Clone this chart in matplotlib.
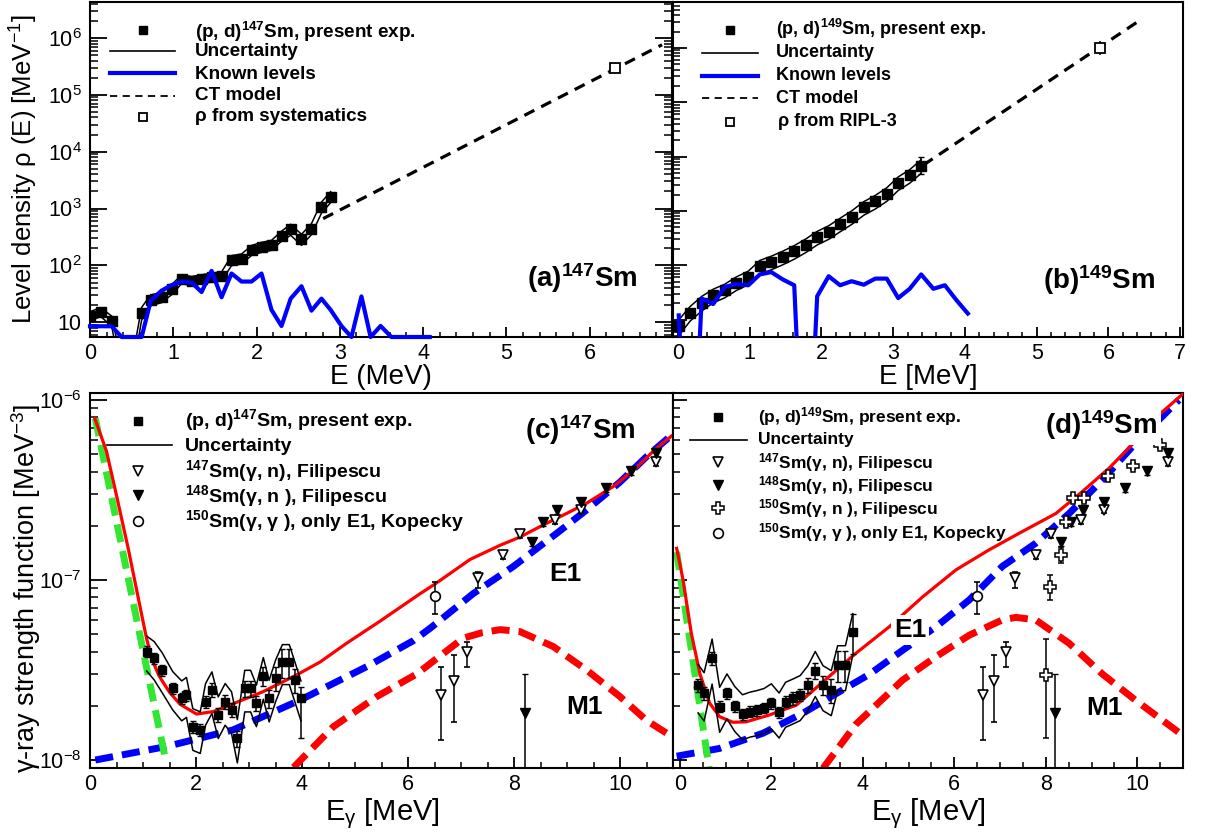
import numpy as np
import matplotlib
matplotlib.use('Agg')
import matplotlib.pyplot as plt
from matplotlib.ticker import MultipleLocator, LogLocator, NullFormatter, FuncFormatter
from matplotlib.lines import Line2D

plt.rcParams['font.family'] = ['Liberation Sans', 'DejaVu Sans']
plt.rcParams['mathtext.fontset'] = 'custom'
plt.rcParams['mathtext.rm'] = 'Liberation Sans'
plt.rcParams['mathtext.it'] = 'Liberation Sans:italic'
plt.rcParams['mathtext.bf'] = 'Liberation Sans:bold'
plt.rcParams['axes.linewidth'] = 1.5

# ---------------- data: panel (a) 147Sm level density ----------------
a_E = [0.00, 0.13, 0.26, 0.38, 0.50, 0.62, 0.73, 0.86, 0.98, 1.10, 1.22, 1.34, 1.46,
       1.58, 1.70, 1.82, 1.94, 2.06, 2.18, 2.30, 2.41, 2.54, 2.66, 2.78, 2.89]
a_rho = [13, 15.3, 10.7, 1.5, 1.5, 14.6, 25, 27.6, 38, 58, 54, 58, 62, 65, 124, 132,
         187, 212, 230, 333, 434, 289, 445, 1065, 1625]
a_unc = [0.18, 0.18, 0.20, 0.30, 0.30, 0.25, 0.22, 0.20, 0.20, 0.18, 0.18, 0.18, 0.18,
         0.18, 0.20, 0.20, 0.20, 0.20, 0.20, 0.20, 0.22, 0.22, 0.22, 0.22, 0.22]
a_known_E = a_E + [3.02, 3.14, 3.26, 3.37, 3.49, 3.62, 3.74, 3.86, 3.98, 4.08]
a_known = [8.5, 8.5, 8.5, 0, 0, 0, 24, 36, 45, 52, 50, 34, 80, 27.5, 72, 52, 52, 72,
           16.5, 8.6, 26, 43, 16, 26, 16.5, 8.6, 0, 28.5, 0, 8.6, 0, 0, 0, 0, 0]
a_ct_E = [2.80, 6.87]
a_ct_rho = [665, 7.6e5]
a_sys_E = [6.30]
a_sys_rho = [3.0e5]
a_sys_err = [0.3e5]

# ---------------- data: panel (b) 149Sm level density ----------------
b_E = [0.01, 0.17, 0.33, 0.49, 0.65, 0.81, 0.98, 1.14, 1.30, 1.46, 1.62, 1.78, 1.94,
       2.10, 2.26, 2.42, 2.59, 2.75, 2.91, 3.07, 3.23, 3.39]
b_rho = [7.5, 13.5, 20.6, 28.4, 35, 47.6, 61, 96, 115, 142, 180, 238, 329, 417, 575,
         783, 1160, 1510, 2085, 3310, 4500, 6850]
b_unc = [0.32, 0.30, 0.30, 0.28, 0.28, 0.28, 0.28, 0.28, 0.28, 0.28, 0.28, 0.28, 0.28,
         0.28, 0.28, 0.28, 0.28, 0.28, 0.28, 0.28, 0.28, 0.28]
b_known_E = [0.01, 0.17, 0.33, 0.49, 0.65, 0.81, 0.98, 1.14, 1.30, 1.46, 1.62, 1.78, 1.94,
             2.10, 2.26, 2.42, 2.59, 2.75, 2.91, 3.07, 3.23, 3.39, 3.56, 3.72, 3.88, 4.04]
b_known = [12, 0, 24.5, 19.4, 40, 45, 43, 68, 75, 55, 43, 0, 27, 63, 43, 51, 44, 57, 57,
           25, 37, 68, 37, 43, 23, 13]
b_ct_E = [3.42, 6.45]
b_ct_rho = [7000, 3.3e6]
b_ripl_E = [5.88]
b_ripl_rho = [1.0e6]
b_ripl_lo = [7.3e5]
b_ripl_hi = [1.35e6]
b_last_lo = [4700]
b_last_hi = [9800]

# ---------------- data: panel (c) 147Sm gamma strength ----------------
c_E = [1.07, 1.21, 1.36, 1.56, 1.73, 1.82, 1.94, 2.08, 2.18, 2.30, 2.42, 2.55, 2.67,
       2.78, 2.92, 3.03, 3.14, 3.27, 3.38, 3.50, 3.63, 3.76, 3.87, 3.98]
c_f = [4.0e-8, 3.67e-8, 3.16e-8, 2.5e-8, 2.2e-8, 2.3e-8, 1.53e-8, 1.47e-8, 2.11e-8,
       2.45e-8, 1.78e-8, 2.11e-8, 1.9e-8, 1.32e-8, 2.5e-8, 2.5e-8, 2.07e-8, 2.94e-8,
       2.2e-8, 2.84e-8, 3.5e-8, 3.5e-8, 2.78e-8, 2.2e-8]
c_unc = [0.22, 0.24, 0.25, 0.24, 0.25, 0.25, 0.26, 0.26, 0.26, 0.26, 0.26, 0.26, 0.26,
         0.27, 0.26, 0.26, 0.26, 0.26, 0.26, 0.26, 0.25, 0.25, 0.25, 0.25]
c_dhi = [0.07, 0.07, 0.07, 0.07, 0.07, 0.07, 0.08, 0.08, 0.08, 0.09, 0.09, 0.09, 0.09,
         0.10, 0.10, 0.10, 0.10, 0.12, 0.12, 0.15, 0.18, 0.18, 0.15, 0.15]
c_dlo = [0.07, 0.07, 0.07, 0.07, 0.07, 0.07, 0.08, 0.08, 0.08, 0.09, 0.09, 0.09, 0.09,
         0.10, 0.10, 0.10, 0.10, 0.12, 0.12, 0.15, 0.18, 0.18, 0.15, 0.40]
c_tot_E = [0.09, 0.31, 0.50, 0.72, 0.88, 1.00, 1.07, 1.13, 1.20, 1.30, 1.38, 1.50, 1.70,
           2.01, 2.33, 2.64, 3.27, 3.90, 4.34, 4.84, 5.47, 6.23, 6.51, 7.17, 7.74, 8.11,
           8.55, 8.99, 9.37, 9.87, 10.25, 10.69, 11.0]
c_tot = [7.9e-7, 5.2e-7, 2.95e-7, 1.5e-7, 8.8e-8, 5.9e-8, 4.7e-8, 4.0e-8, 3.45e-8,
         2.95e-8, 2.7e-8, 2.38e-8, 2.04e-8, 1.8e-8, 1.86e-8, 2.02e-8, 2.4e-8, 2.97e-8,
         3.5e-8, 4.45e-8, 5.9e-8, 8.4e-8, 9.5e-8, 1.3e-7, 1.56e-7, 1.73e-7, 2.02e-7,
         2.34e-7, 2.67e-7, 3.3e-7, 4.06e-7, 5.4e-7, 6.4e-7]
c_up_E = [0.10, 1.415]
c_up = [7.9e-7, 1.04e-8]
c_e1_E = [0.10, 1.45, 2.70, 3.96, 5.22, 6.10, 6.42, 7.23, 7.99, 8.81, 9.37, 10.0, 10.5, 10.98]
c_e1 = [1.0e-8, 1.19e-8, 1.47e-8, 2.15e-8, 3.3e-8, 4.6e-8, 5.4e-8, 8.4e-8, 1.19e-7,
        1.82e-7, 2.45e-7, 3.5e-7, 4.84e-7, 6.4e-7]
c_m1_E = [3.84, 4.59, 5.41, 6.16, 7.04, 7.40, 7.74, 8.11, 8.74, 9.37, 10.0, 10.5, 10.98]
c_m1 = [9.1e-9, 1.53e-8, 2.25e-8, 3.0e-8, 4.75e-8, 5.1e-8, 5.3e-8, 5.17e-8, 4.27e-8,
        3.16e-8, 2.25e-8, 1.66e-8, 1.35e-8]

# ---------------- data: panel (d) 149Sm gamma strength ----------------
d_E = [0.40, 0.53, 0.705, 0.87, 1.03, 1.20, 1.37, 1.53, 1.69, 1.84, 2.00, 2.17, 2.31,
       2.47, 2.63, 2.80, 2.96, 3.13, 3.31, 3.45, 3.62, 3.78]
d_f = [2.61e-8, 2.35e-8, 3.67e-8, 1.98e-8, 2.35e-8, 2.0e-8, 1.8e-8, 1.86e-8, 1.9e-8,
       1.95e-8, 2.07e-8, 1.84e-8, 2.11e-8, 2.2e-8, 2.3e-8, 2.61e-8, 3.13e-8, 2.61e-8,
       2.45e-8, 3.37e-8, 3.37e-8, 5.16e-8]
d_unc = [0.30, 0.30, 0.28, 0.28, 0.28, 0.28, 0.28, 0.28, 0.28, 0.28, 0.28, 0.28, 0.28,
         0.28, 0.28, 0.28, 0.28, 0.28, 0.28, 0.28, 0.28, 0.26]
d_derr = [0.08, 0.08, 0.08, 0.07, 0.07, 0.07, 0.07, 0.07, 0.07, 0.07, 0.07, 0.07, 0.07,
          0.08, 0.08, 0.10, 0.10, 0.12, 0.15, 0.20, 0.20, 0.25]
d_tot_E = [-0.07, 0.07, 0.25, 0.44, 0.65, 0.87, 1.16, 1.45, 1.96, 2.55, 3.13, 3.85, 4.58,
           5.31, 6.04, 6.76, 7.49, 8.22, 8.80, 9.38, 9.96, 10.47, 10.98]
d_tot = [1.5e-7, 1.0e-7, 5.06e-8, 3.0e-8, 2.07e-8, 1.74e-8, 1.62e-8, 1.63e-8, 1.78e-8,
         2.02e-8, 2.72e-8, 3.92e-8, 5.5e-8, 8.07e-8, 1.14e-7, 1.47e-7, 1.86e-7, 2.34e-7,
         3.1e-7, 4.17e-7, 5.9e-7, 8.25e-7, 1.07e-6]
d_up_E = [-0.07, 0.64]
d_up = [1.43e-7, 9.0e-9]
d_e1_E = [-0.07, 0.87, 1.82, 2.69, 3.42, 4.15, 4.87, 5.60, 6.33, 7.05, 7.78, 8.51, 9.24,
          9.96, 10.91]
d_e1 = [1.05e-8, 1.16e-8, 1.41e-8, 1.82e-8, 2.34e-8, 3.0e-8, 4.07e-8, 5.5e-8, 7.76e-8,
        1.19e-7, 1.6e-7, 2.34e-7, 3.6e-7, 5.75e-7, 1.0e-6]
d_m1_E = [3.13, 3.85, 4.87, 5.60, 6.33, 7.05, 7.35, 7.78, 8.51, 9.24, 9.96, 10.98]
d_m1 = [9.0e-9, 1.58e-8, 2.78e-8, 3.75e-8, 4.94e-8, 6.0e-8, 6.2e-8, 6.0e-8, 4.45e-8,
        3.0e-8, 2.15e-8, 1.38e-8]

# ---------------- photo-neutron / NRF data (shared) ----------------
f147_E = [6.62, 6.87, 7.12, 7.33, 7.79, 8.11, 8.77, 9.27, 10.68]
f147 = [2.3e-8, 2.75e-8, 4.0e-8, 1.02e-7, 1.37e-7, 1.79e-7, 2.15e-7, 2.45e-7, 4.5e-7]
f147_lo = [1.29e-8, 1.63e-8, 3.3e-8, 9.0e-8, 1.3e-7, 1.7e-7, 2.05e-7, 2.35e-7, 4.3e-7]
f147_hi = [3.3e-8, 3.83e-8, 4.54e-8, 1.11e-7, 1.45e-7, 1.88e-7, 2.25e-7, 2.55e-7, 4.7e-7]
f148_E = [8.21, 8.34, 8.55, 8.81, 9.27, 9.74, 10.21, 10.68]
f148 = [1.82e-8, 1.62e-7, 2.1e-7, 2.44e-7, 2.7e-7, 3.25e-7, 4.03e-7, 5.1e-7]
f148_lo = [1e-9, 1.55e-7, 2.0e-7, 2.33e-7, 2.58e-7, 3.1e-7, 3.85e-7, 4.9e-7]
f148_hi = [3.0e-8, 1.7e-7, 2.2e-7, 2.55e-7, 2.82e-7, 3.4e-7, 4.2e-7, 5.3e-7]
f150_E = [8.00, 8.09, 8.33, 8.45, 8.60, 8.84, 9.37, 9.91, 10.50]
f150 = [2.97e-8, 9.2e-8, 1.38e-7, 2.1e-7, 2.84e-7, 2.84e-7, 3.8e-7, 4.3e-7, 5.6e-7]
f150_lo = [1.32e-8, 7.7e-8, 1.25e-7, 2.0e-7, 2.72e-7, 2.72e-7, 3.65e-7, 4.15e-7, 5.4e-7]
f150_hi = [4.7e-8, 1.06e-7, 1.52e-7, 2.2e-7, 2.96e-7, 2.96e-7, 3.95e-7, 4.45e-7, 5.8e-7]
kop_E = [6.50]
kop = [8.1e-8]
kop_lo = [6.5e-8]
kop_hi = [9.8e-8]

# ======================= figure =======================
W, H = 1209, 835
fig = plt.figure(figsize=(W / 100, H / 100), dpi=100)


def box(l, t, r, b):
    return [l / W, 1 - b / H, (r - l) / W, (b - t) / H]


axA = fig.add_axes(box(90, 2, 672, 337))
axB = fig.add_axes(box(673, 2, 1183, 337))
axC = fig.add_axes(box(90, 393, 673, 768))
axD = fig.add_axes(box(673, 393, 1183, 768))

RED, BLUE, GREEN = '#ff0000', '#0000ff', '#33e633'
TICKFS = 15.5


def logfmt(v, pos):
    e = int(round(np.log10(v)))
    if e == 1:
        return '10'
    return r'$\mathregular{10^{%d}}$' % e


def style(ax, xmaj, xmin, xlen, ylen, ylabels=True, right=False):
    ax.set_yscale('log')
    ax.xaxis.set_major_locator(MultipleLocator(xmaj))
    ax.xaxis.set_minor_locator(MultipleLocator(xmin))
    ax.yaxis.set_major_locator(LogLocator(base=10, numticks=20))
    ax.yaxis.set_minor_locator(LogLocator(base=10, subs=np.arange(2, 10), numticks=20))
    ax.yaxis.set_minor_formatter(NullFormatter())
    if ylabels:
        ax.yaxis.set_major_formatter(FuncFormatter(logfmt))
    else:
        ax.tick_params(axis='y', labelleft=False)
    ax.tick_params(axis='x', which='major', direction='in', length=xlen, width=1.3,
                   labelsize=TICKFS, pad=4, top=False)
    ax.tick_params(axis='x', which='minor', direction='in', length=xlen / 2, width=1.1, top=False)
    ax.tick_params(axis='y', which='major', direction='in', length=ylen, width=1.3,
                   labelsize=TICKFS, pad=6, right=right)
    ax.tick_params(axis='y', which='minor', direction='in', length=ylen / 2, width=1.1, right=right)


# ---------------- panel a ----------------
ylimA = (5.5, 4.3e6)
aE = np.array(a_E)
ar = np.array(a_rho)
au = np.array(a_unc)
axA.plot(aE, ar * (1 + au), '-', color='k', lw=1.1, zorder=3)
axA.plot(aE, ar * (1 - au), '-', color='k', lw=1.1, zorder=3)
axA.plot(aE, ar, 's', color='k', ms=6.5, zorder=4)
axA.plot(a_known_E, np.maximum(np.array(a_known, float), ylimA[0]), '-', color=BLUE,
         lw=3, zorder=5, clip_on=False)
axA.plot(a_ct_E, a_ct_rho, color='k', lw=2.3, ls=(0, (3.5, 2.4)), zorder=3)
axA.errorbar(a_sys_E, a_sys_rho, yerr=[a_sys_err, a_sys_err], fmt='s', ms=6.5, mfc='white',
             mec='k', mew=1.3, ecolor='k', elinewidth=1.1, zorder=4)
axA.set_xlim(0, 6.99)
axA.set_ylim(*ylimA)
style(axA, 1, 0.2, 7.2, 12, ylabels=True, right=True)

# ---------------- panel b ----------------
ylimB = (4.8, 7e6)
bE = np.array(b_E)
br = np.array(b_rho)
bu = np.array(b_unc)
axB.plot(bE, br * (1 + bu), '-', color='k', lw=1.1, zorder=3)
axB.plot(bE, br * (1 - bu), '-', color='k', lw=1.1, zorder=3)
axB.plot(bE, br, 's', color='k', ms=6.5, zorder=4)
axB.errorbar([b_E[-1]], [b_rho[-1]], yerr=[[b_rho[-1] - b_last_lo[0]], [b_last_hi[0] - b_rho[-1]]],
             fmt='none', ecolor='k', elinewidth=1.1, capsize=2, zorder=4)
bk = np.array(b_known, float)
axB.plot(b_known_E, np.where(bk > 0, bk, 1e-3), '-', color=BLUE, lw=3, zorder=5)
axB.plot(b_ct_E, b_ct_rho, color='k', lw=2.3, ls=(0, (3.5, 2.4)), zorder=3)
axB.errorbar(b_ripl_E, b_ripl_rho,
             yerr=[[b_ripl_rho[0] - b_ripl_lo[0]], [b_ripl_hi[0] - b_ripl_rho[0]]],
             fmt='s', ms=6.5, mfc='white', mec='k', mew=1.3, ecolor='k', elinewidth=1.1, zorder=4)
axB.set_xlim(-0.07, 7.04)
axB.set_ylim(*ylimB)
style(axB, 1, 0.2, 7.2, 10, ylabels=False)


# ---------------- panels c, d ----------------
def gsf_panel(ax, E, f, unc, dlo, dhi, tot_E, tot, up_E, up, e1_E, e1, m1_E, m1, with150):
    E = np.array(E)
    f = np.array(f)
    u = np.array(unc)
    thick = dict(lw=5, ls=(0, (2.6, 1.3)), solid_capstyle='butt')
    ax.plot(e1_E, e1, color=BLUE, zorder=2, **thick)
    ax.plot(m1_E, m1, color=RED, zorder=2, **thick)
    ax.plot(up_E, up, color=GREEN, zorder=2, **thick)
    ax.plot(tot_E, tot, '-', color=RED, lw=2.3, zorder=3)
    ax.plot(E, f * (1 + u), '-', color='k', lw=1.1, zorder=4)
    ax.plot(E, f * (1 - u), '-', color='k', lw=1.1, zorder=4)
    ax.errorbar(E, f, yerr=[f * np.array(dlo), f * np.array(dhi)], fmt='s', ms=5.5,
                color='k', ecolor='k', elinewidth=1.1, capsize=2, zorder=5)
    ax.errorbar(f147_E, f147, yerr=[np.array(f147) - np.array(f147_lo),
                                    np.array(f147_hi) - np.array(f147)],
                fmt='v', ms=7, mfc='white', mec='k', mew=1.2, ecolor='k',
                elinewidth=1.1, capsize=2, zorder=6)
    ax.errorbar(f148_E, f148, yerr=[np.array(f148) - np.array(f148_lo),
                                    np.array(f148_hi) - np.array(f148)],
                fmt='v', ms=7, color='k', ecolor='k', elinewidth=1.1, capsize=2, zorder=6)
    if with150:
        ax.errorbar(f150_E, f150, yerr=[np.array(f150) - np.array(f150_lo),
                                        np.array(f150_hi) - np.array(f150)],
                    fmt='P', ms=8, mfc='white', mec='k', mew=1.1, ecolor='k',
                    elinewidth=1.1, capsize=2, zorder=6)
    ax.errorbar(kop_E, kop, yerr=[np.array(kop) - np.array(kop_lo), np.array(kop_hi) - np.array(kop)],
                fmt='o', ms=7, mfc='white', mec='k', mew=1.2, ecolor='k',
                elinewidth=1.1, capsize=2, zorder=6)
    ax.set_ylim(9.03e-9, 1.093e-6)


gsf_panel(axC, c_E, c_f, c_unc, c_dlo, c_dhi, c_tot_E, c_tot, c_up_E, c_up, c_e1_E, c_e1,
          c_m1_E, c_m1, False)
axC.set_xlim(0, 11)
style(axC, 2, 0.5, 8, 12, ylabels=True)

gsf_panel(axD, d_E, d_f, d_unc, d_derr, d_derr, d_tot_E, d_tot, d_up_E, d_up, d_e1_E, d_e1,
          d_m1_E, d_m1, True)
axD.set_xlim(-0.15, 11)
style(axD, 2, 0.5, 8, 10, ylabels=False)

# ---------------- panel labels ----------------
wbox = dict(facecolor='white', edgecolor='none', boxstyle='square,pad=0.12')
fig.text(527 / W, 1 - 278 / H, r'(a)$^{\mathbf{147}}$Sm', fontsize=20, fontweight='bold',
         ha='left', va='center')
fig.text(1043 / W, 1 - 280 / H, r'(b)$^{\mathbf{149}}$Sm', fontsize=20, fontweight='bold',
         ha='left', va='center')
fig.text(525 / W, 1 - 430 / H, r'(c)$^{\mathbf{147}}$Sm', fontsize=20, fontweight='bold',
         ha='left', va='center', zorder=20, bbox=wbox)
fig.text(1045 / W, 1 - 425 / H, r'(d)$^{\mathbf{149}}$Sm', fontsize=20, fontweight='bold',
         ha='left', va='center', zorder=20, bbox=wbox)
fig.text(565 / W, 1 - 574 / H, 'E1', fontsize=19, fontweight='bold', ha='center',
         va='center', zorder=20, bbox=wbox)
fig.text(585 / W, 1 - 707 / H, 'M1', fontsize=19, fontweight='bold', ha='center', va='center')
fig.text(910 / W, 1 - 630 / H, 'E1', fontsize=19, fontweight='bold', ha='center',
         va='center', zorder=20, bbox=wbox)
fig.text(1105 / W, 1 - 708 / H, 'M1', fontsize=19, fontweight='bold', ha='center', va='center')

# ---------------- axis titles ----------------
fig.text(24 / W, 1 - 169 / H, r'Level density ρ (E) [MeV$^{-1}$]', rotation=90,
         fontsize=18.5, ha='center', va='center')
fig.text(26 / W, 1 - 588 / H, r'γ-ray strength function [MeV$^{-3}$]', rotation=90,
         fontsize=19.5, ha='center', va='center')
fig.text(381 / W, 1 - 377 / H, 'E (MeV)', fontsize=20, ha='center', va='center')
fig.text(928 / W, 1 - 377 / H, 'E [MeV]', fontsize=20, ha='center', va='center')
fig.text(382 / W, 1 - 814 / H, r'E$_{\mathrm{γ}}$ [MeV]', fontsize=21, ha='center', va='center')
fig.text(928 / W, 1 - 814 / H, r'E$_{\mathrm{γ}}$ [MeV]', fontsize=21, ha='center', va='center')


# ---------------- legends (drawn in figure pixel coordinates) ----------------
def fx(x):
    return x / W


def fy(y):
    return 1 - y / H


def leg_line(x0, x1, y, **kw):
    fig.add_artist(Line2D([fx(x0), fx(x1)], [fy(y), fy(y)], transform=fig.transFigure, **kw))


def leg_mark(x, y, **kw):
    fig.add_artist(Line2D([fx(x)], [fy(y)], transform=fig.transFigure, ls='none', **kw))


def leg_text(x, y, s, fs):
    cap = 0.716 * fs * 100 / 72
    fig.text(fx(x), fy(y + cap / 2), s, fontsize=fs, fontweight='bold', ha='left', va='baseline')


sq = dict(marker='s', ms=6, color='k')
osq = dict(marker='s', ms=6, mfc='white', mec='k', mew=1.3)
otri = dict(marker='v', ms=7, mfc='white', mec='k', mew=1.2)
ftri = dict(marker='v', ms=7, color='k')
ocir = dict(marker='o', ms=7, mfc='white', mec='k', mew=1.2)
ocross = dict(marker='P', ms=8, mfc='white', mec='k', mew=1.1)

# panel a legend
fsA = 13.6
leg_mark(143, 30, **sq)
leg_line(110, 175, 51, color='k', lw=1.2)
leg_line(110, 175, 73, color=BLUE, lw=3)
leg_line(110, 175, 96, color='k', lw=1.3, ls=(0, (4, 3)))
leg_mark(143, 117, **osq)
leg_text(195, 31, r'(p, d)$^{\mathbf{147}}$Sm, present exp.', fsA)
leg_text(195, 49, 'Uncertainty', fsA)
leg_text(195, 72, 'Known levels', fsA)
leg_text(195, 93, 'CT model', fsA)
leg_text(195, 114, 'ρ from systematics', fsA)

# panel b legend
fsB = 13
leg_mark(730, 30, **sq)
leg_line(702, 758, 53, color='k', lw=1.2)
leg_line(702, 758, 76, color=BLUE, lw=3)
leg_line(702, 758, 98, color='k', lw=1.3, ls=(0, (4, 3)))
leg_mark(730, 122, **osq)
leg_text(776, 29, r'(p, d)$^{\mathbf{149}}$Sm, present exp.', fsB)
leg_text(776, 51, 'Uncertainty', fsB)
leg_text(776, 74, 'Known levels', fsB)
leg_text(776, 97, 'CT model', fsB)
leg_text(778, 120, 'ρ from RIPL-3', fsB)

# panel c legend
fsC = 14
leg_mark(138, 421, **sq)
leg_line(107, 172, 445, color='k', lw=1.2)
leg_mark(138, 471, **otri)
leg_mark(138, 495, **ftri)
leg_mark(138, 521, **ocir)
leg_text(185, 419, r'(p, d)$^{\mathbf{147}}$Sm, present exp.', fsC)
leg_text(185, 444, 'Uncertainty', fsC)
leg_text(185, 470, r'$^{\mathbf{147}}$Sm(γ, n), Filipescu', fsC)
leg_text(185, 495, r'$^{\mathbf{148}}$Sm(γ, n ), Filipescu', fsC)
leg_text(185, 520, r'$^{\mathbf{150}}$Sm(γ, γ ), only E1, Kopecky', fsC)

# panel d legend
fsD = 12.5
leg_mark(718, 417, **sq)
leg_line(690, 747, 440, color='k', lw=1.2)
leg_mark(718, 462, **otri)
leg_mark(718, 485, **ftri)
leg_mark(718, 508, **ocross)
leg_mark(718, 533, **ocir)
leg_text(758, 416, r'(p, d)$^{\mathbf{149}}$Sm, present exp.', fsD)
leg_text(758, 438, 'Uncertainty', fsD)
leg_text(758, 462, r'$^{\mathbf{147}}$Sm(γ, n), Filipescu', fsD)
leg_text(758, 485, r'$^{\mathbf{148}}$Sm(γ, n), Filipescu', fsD)
leg_text(758, 508, r'$^{\mathbf{150}}$Sm(γ, n ), Filipescu', fsD)
leg_text(758, 532, r'$^{\mathbf{150}}$Sm(γ, γ ), only E1, Kopecky', fsD)

fig.savefig('out.png', dpi=100)
